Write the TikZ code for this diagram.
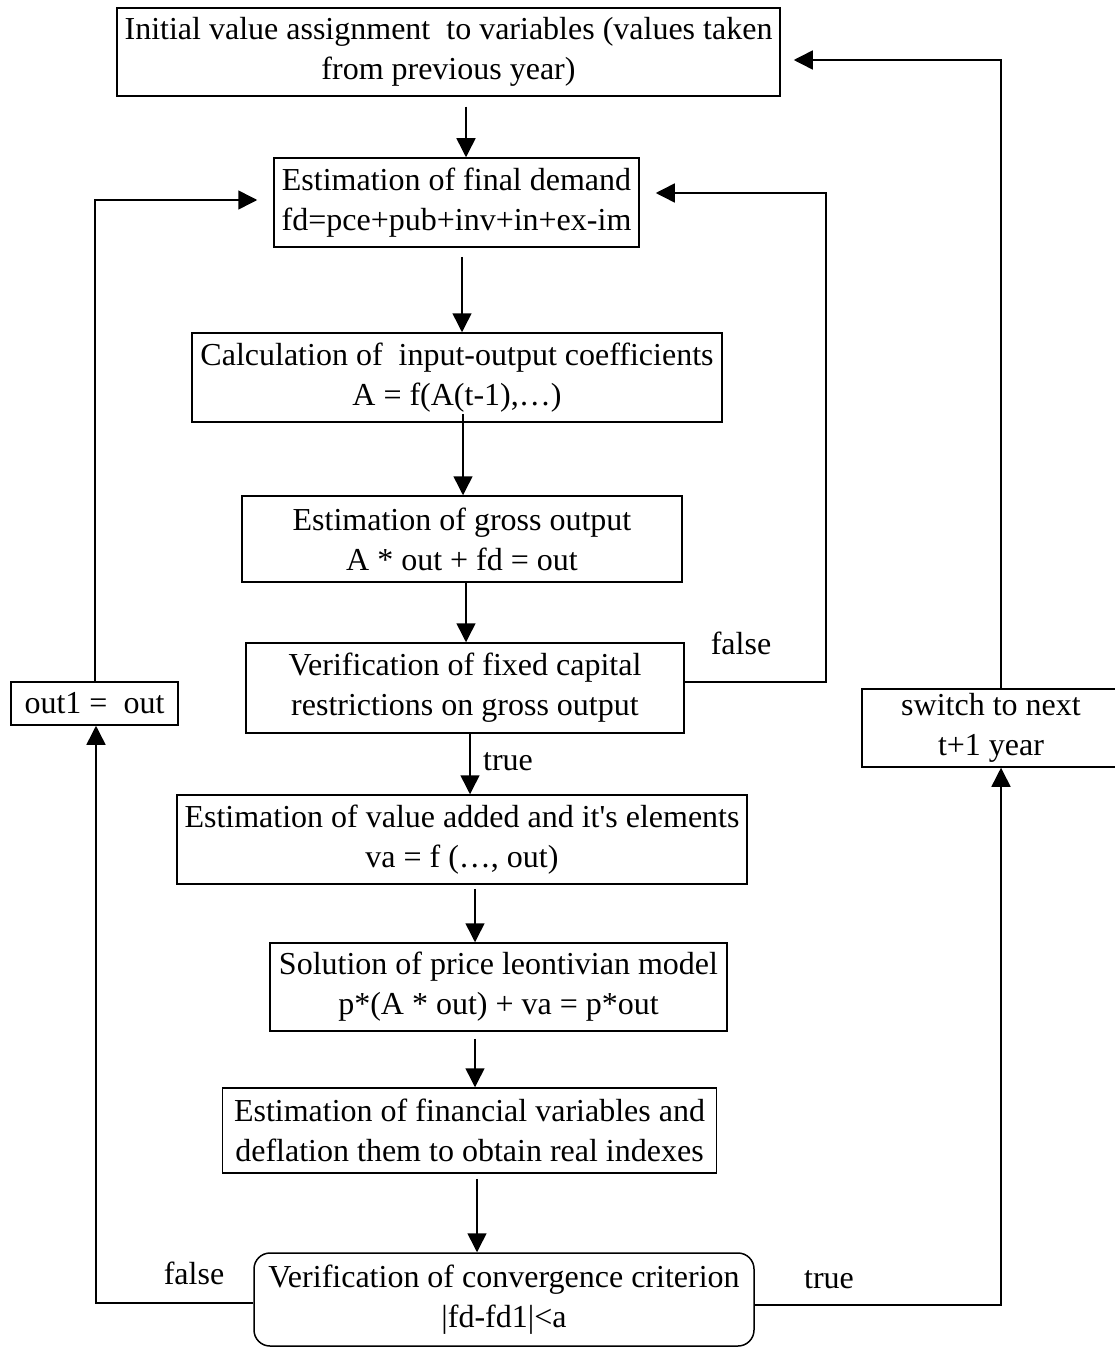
\documentclass[tikz,border=0pt]{standalone}
\usepackage{fontspec}
\setmainfont{Liberation Serif}
\usetikzlibrary{arrows.meta,calc}
\begin{document}
\begin{tikzpicture}[x=1pt,y=-1pt,
  box/.style={draw,line width=1.5pt,inner sep=0pt,align=center,
    font=\fontsize{32}{40}\selectfont},
  rbox/.style={box,rounded corners=16pt},
  lbl/.style={inner sep=0pt,font=\fontsize{32}{40}\selectfont},
  arr/.style={line width=1.5pt,-{Triangle[length=19pt,width=19pt]}},
  ln/.style={line width=1.5pt}]
\useasboundingbox (0,0) rectangle (1114,1348);
\node[box,minimum width=663pt,minimum height=88pt] (b1) at (448.5,52)
  {Initial value assignment\ \ to variables (values taken\\from previous year)};
\node[box,minimum width=365pt,minimum height=89pt] (b2) at (456.5,202.5)
  {Estimation of final demand\\fd=pce+pub+inv+in+ex-im};
\node[box,minimum width=530pt,minimum height=89pt] (b3) at (457,377.5)
  {Calculation of\ \ input-output coefficients\\A = f(A(t-1),\dots)};
\node[box,minimum width=440pt,minimum height=86pt] (b4) at (462,539)
  {Estimation of gross output\\A * out + fd = out};
\node[box,minimum width=438pt,minimum height=90pt] (b5) at (465,688)
  {Verification of fixed capital\\restrictions on gross output};
\node[box,minimum width=570pt,minimum height=89pt] (b6) at (462,839.5)
  {Estimation of value added and it\textquotesingle s elements\\va = f (\dots, out)};
\node[box,minimum width=457pt,minimum height=88pt] (b7) at (498.5,987)
  {Solution of price leontivian model\\p*(A * out) + va = p*out};
\node[box,minimum width=494pt,minimum height=85pt] (b8) at (469.5,1130.5)
  {Estimation of financial variables and\\deflation them to obtain real indexes};
\node[rbox,minimum width=500pt,minimum height=93pt] (b9) at (504,1299.5)
  {Verification of convergence criterion\\\textbar fd-fd1\textbar <a};
\node[box,minimum width=167pt,minimum height=43pt] (o1) at (94.5,703.5)
  {out1 =\ \ out};
\node[box,minimum width=258pt,minimum height=78pt] (sw) at (991,728)
  {switch to next\\t+1 year};
% labels
\node[lbl] (lf1) at (741,643) {false};
\node[lbl] (lt1) at (508,762) {true};
\node[lbl] (lf2) at (194,1273) {false};
\node[lbl] (lt2) at (829,1280) {true};
% main chain
\draw[arr] ([xshift=17.5pt,yshift=-10pt]b1.south) -- ([xshift=17.5pt]b1.south |- b2.north);
\draw[arr] ([xshift=5.5pt,yshift=-9pt]b2.south) -- ([xshift=5.5pt]b2.south |- b3.north);
\draw[arr] ([xshift=6pt,yshift=9pt]b3.south) -- ([xshift=6pt]b3.south |- b4.north);
\draw[arr] ([xshift=4pt]b4.south) -- ([xshift=4pt]b4.south |- b5.north);
\draw[arr] ([xshift=5pt]b5.south) -- ([xshift=5pt]b5.south |- b6.north);
\draw[arr] ([xshift=13pt,yshift=-4pt]b6.south) -- ([xshift=13pt]b6.south |- b7.north);
\draw[arr] ([xshift=-23.5pt,yshift=-7pt]b7.south) -- ([xshift=-23.5pt]b7.south |- b8.north);
\draw[arr] ([xshift=7.5pt,yshift=-5pt]b8.south) -- ([xshift=7.5pt]b8.south |- b9.north);
% false loop from fixed capital check
\coordinate (rf) at (826,682);
\draw[arr] (b5.east |- rf) -- (rf) |- ([xshift=16pt,yshift=9.5pt]b2.east);
% false loop from convergence
\coordinate (lb) at (96,1303);
\draw[arr] (b9.west |- lb) -- (lb) -- (lb |- o1.south);
\coordinate (lt) at (95,200);
\draw[arr] (o1.north -| lt) -- (lt) -- ([xshift=-16pt,yshift=2.5pt]b2.west);
% true to next year
\coordinate (rb) at (1001,1305);
\draw[arr] (b9.east |- rb) -- (rb) -- (rb |- sw.south);
\coordinate (rt) at (1001,60);
\draw[arr] (sw.north -| rt) -- (rt) -- ([xshift=13pt,yshift=-8pt]b1.east);
\end{tikzpicture}
\end{document}
